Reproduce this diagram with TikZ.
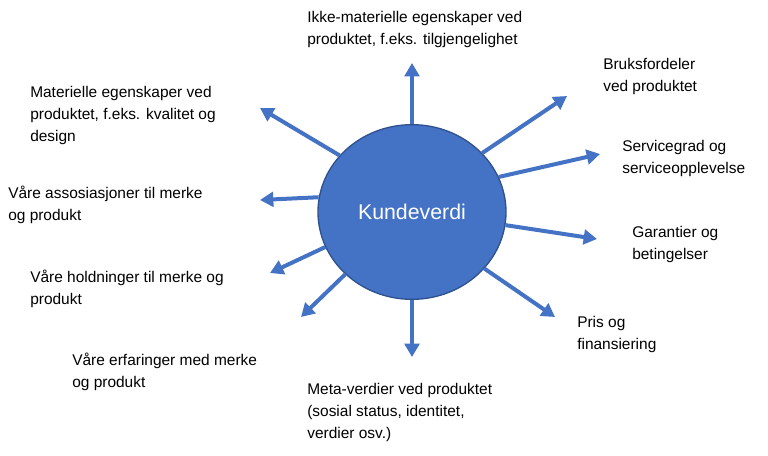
\documentclass[tikz,border=0pt]{standalone}
\usepackage{fontspec}
\setmainfont{Liberation Sans}
\usetikzlibrary{arrows.meta,shapes.geometric}
\definecolor{kvblue}{HTML}{4472C4}
\definecolor{kvedge}{HTML}{2F528F}
\begin{document}
\begin{tikzpicture}[x=0.75pt,y=-0.75pt]

% definitions
\tikzset{
  label/.style={anchor=north west, inner sep=0pt, align=left, yshift=-3pt, font=\fontsize{11.6}{16.5}\selectfont},
  arrow/.style={-{Triangle[width=11pt,length=10pt]}, line width=3pt, draw=kvblue},
}

\useasboundingbox (0,0) rectangle (768,455);

% the graph
\node (kv) [ellipse, draw=kvedge, line width=1pt, fill=kvblue, inner sep=0pt, minimum width=141pt, minimum height=131pt, text=white, font=\fontsize{16}{19}\selectfont] at (412,212) {Kundeverdi};

\coordinate (e1) at (412,63);
\coordinate (e2) at (567,96);
\coordinate (e3) at (600,154);
\coordinate (e4) at (597,239);
\coordinate (e5) at (555,317);
\coordinate (e6) at (412,357);
\coordinate (e7) at (301,317);
\coordinate (e8) at (270,273);
\coordinate (e9) at (260,200);
\coordinate (e10) at (260,108);

\foreach \a/\e in {90/e1, 40/e2, 22/e3, -8/e4, -38/e5, 270/e6, 223/e7, 202/e8, 171/e9, 142/e10}
  \draw [arrow] (kv.\a) -- (\e);

\node (t1) [label] at (307,7) {Ikke-materielle egenskaper ved\\produktet, f.eks. tilgjengelighet};
\node (t2) [label] at (603,54) {Bruksfordeler\\ved produktet};
\node (t3) [label] at (622,136) {Servicegrad og\\serviceopplevelse};
\node (t4) [label] at (632,222) {Garantier og\\betingelser};
\node (t5) [label] at (577,312) {Pris og\\finansiering};
\node (t6) [label] at (307,379) {Meta-verdier ved produktet\\(sosial status, identitet,\\verdier osv.)};
\node (t7) [label] at (72,349) {Våre erfaringer med merke\\og produkt};
\node (t8) [label] at (30,266) {Våre holdninger til merke og\\produkt};
\node (t9) [label] at (8,182) {Våre assosiasjoner til merke\\og produkt};
\node (t10) [label] at (30,82) {Materielle egenskaper ved\\produktet, f.eks. kvalitet og\\design};

\end{tikzpicture}
\end{document}
